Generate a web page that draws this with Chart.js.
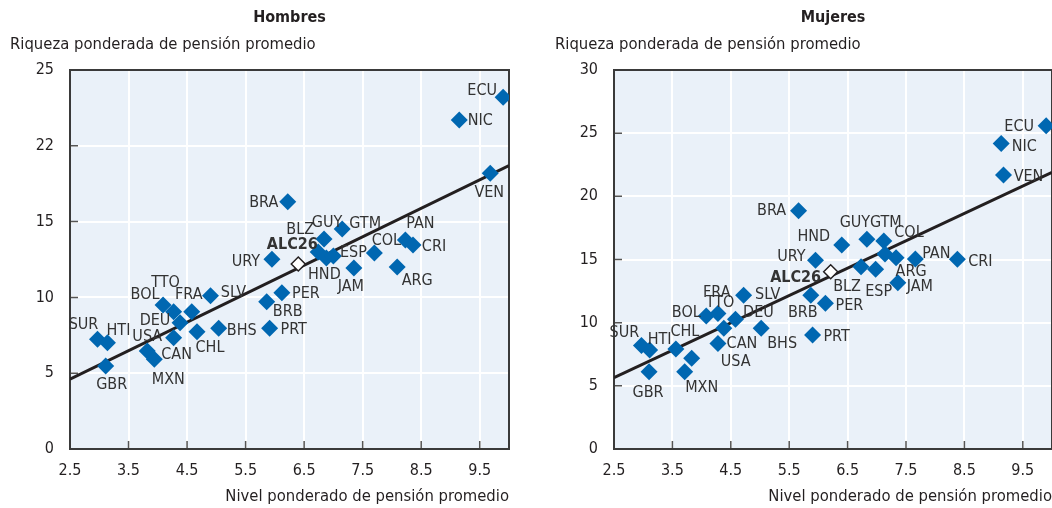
<!DOCTYPE html>
<html>
<head>
<meta charset="utf-8">
<script src="https://cdn.jsdelivr.net/npm/chart.js@4"></script>
<style>
  body { margin: 0; background: #fff; width: 1052px; height: 508px; overflow: hidden; position: relative; }
  canvas { position: absolute; top: 0; }
  #men { left: 0; }
  #women { left: 544px; }
</style>
</head>
<body>
<canvas id="men" width="530" height="508"></canvas>
<canvas id="women" width="509" height="508"></canvas>
<script>
// country codes, same order in every series below
const countries = ["SUR","HTI","GBR","USA","MXN","CAN","DEU","BOL","TTO","FRA","CHL","SLV","BHS","BRB","PER","PRT",
                   "URY","BLZ","HND","GUY","GTM","ESP","JAM","COL","ARG","PAN","CRI","BRA","ECU","NIC","VEN"]

// Hombres: nivel (x) and riqueza (y)
const menLevel  = [2.97,3.14,3.11,3.82,3.94,4.27,4.38,4.09,4.27,4.58,4.67,4.90,5.04,5.86,6.12,5.91,
                   5.95,6.74,6.88,6.84,7.15,7.00,7.35,7.70,8.09,8.23,8.36,6.22,9.90,9.15,9.68]
const menWealth = [7.24,7.01,5.47,6.46,5.92,7.34,8.33,9.50,9.06,9.06,7.74,10.11,7.96,9.72,10.31,7.96,
                   12.51,13.0,12.6,13.85,14.51,12.73,11.94,12.93,12.0,13.79,13.46,16.31,23.2,21.7,18.19]
const menAvg = [6.40, 12.2]          // ALC26
const menTrendX = [2.5, 10]
const menTrendY = [4.6, 18.7]

// Mujeres
const womenLevel  = [2.97,3.11,3.10,3.83,3.71,4.28,4.58,4.08,4.28,4.38,3.56,4.72,5.02,5.87,6.12,5.90,
                     5.95,6.73,6.40,6.83,7.12,6.98,7.36,7.14,7.33,7.66,8.38,5.66,9.90,9.13,9.17]
const womenWealth = [8.19,7.83,6.12,7.18,6.12,8.36,10.28,10.52,10.73,9.55,7.91,12.18,9.55,12.18,11.53,9.02,
                     14.95,14.42,16.14,16.61,16.46,14.22,13.16,15.43,15.13,15.03,15.01,18.85,25.58,24.18,21.68]
const womenAvg = [6.21, 14.03]
const womenTrendX = [2.5, 10]
const womenTrendY = [5.64, 21.9]

// axes
const xTicks = [2.5,3.5,4.5,5.5,6.5,7.5,8.5,9.5]
const xTickLabels = ["2.5","3.5","4.5","5.5","6.5","7.5","8.5","9.5"]
const menYTicks = [0,5,10,15,20,25]
const menYTickLabels = ["0","5","10","15","22","25"]
const womenYTicks = [0,5,10,15,20,25,30]
const womenYTickLabels = ["0","5","10","15","20","25","30"]

// where each label sits relative to its marker (dx, dy in px)
const menLabelAt = {
  SUR:[-14,-14], HTI:[11,-12], GBR:[6,19], USA:[0,-14], MXN:[14,21], CAN:[3,17], DEU:[-25,-2],
  BOL:[-18,-10], TTO:[-8,-29], FRA:[-3,-17], CHL:[13,16], SLV:[23,-3], BHS:[23,3], BRB:[21,10],
  PER:[24,1], PRT:[24,2], URY:[-26,2], BLZ:[-18,-22], HND:[-2,17], GUY:[3,-16], GTM:[23,-5],
  ESP:[20,-3], JAM:[-3,19], COL:[12,-12], ARG:[20,14], PAN:[15,-16], CRI:[21,2], BRA:[-24,1],
  ECU:[-21,-6], NIC:[21,1], VEN:[-1,20], ALC26:[-6,-19]
}
const womenLabelAt = {
  SUR:[-17,-13], HTI:[10,-10], GBR:[-1,21], USA:[44,4], MXN:[17,16], CAN:[24,0], DEU:[23,-6],
  BOL:[-20,-3], TTO:[2,-11], FRA:[-7,-36], CHL:[9,-17], SLV:[24,0], BHS:[21,15], BRB:[-8,18],
  PER:[24,3], PRT:[24,2], URY:[-24,-3], BLZ:[-14,20], HND:[-28,-8], GUY:[-12,-16], GTM:[2,-18],
  ESP:[3,22], JAM:[22,4], COL:[24,-21], ARG:[15,14], PAN:[21,-5], CRI:[23,2], BRA:[-27,0],
  ECU:[-27,1], NIC:[23,3], VEN:[25,2], ALC26:[-35,6]
}

const FONT = "'Liberation Sans Narrow', 'DejaVu Sans Condensed', 'Arial Narrow', sans-serif"
const BLUE = '#0067b1'

function framePlugin(o) {
  return {
    id: 'frame',
    beforeDraw(chart) {
      const a = chart.chartArea, ctx = chart.ctx
      ctx.save()
      ctx.fillStyle = '#eaf1f9'
      ctx.fillRect(a.left, a.top, a.right - a.left, a.bottom - a.top)
      ctx.restore()
    },
    beforeDatasetsDraw(chart) {
      const a = chart.chartArea, ctx = chart.ctx
      const xs = chart.scales.x, ys = chart.scales.y
      ctx.save()
      ctx.strokeStyle = '#555'
      ctx.lineWidth = 1.5
      ctx.beginPath()
      xTicks.forEach(v => { const p = xs.getPixelForValue(v); ctx.moveTo(p, a.bottom); ctx.lineTo(p, a.bottom - 8) })
      o.yTicks.forEach(v => { const p = ys.getPixelForValue(v); ctx.moveTo(a.left, p); ctx.lineTo(a.left + 8, p) })
      ctx.stroke()
      ctx.strokeStyle = '#3a3a3a'
      ctx.lineWidth = 2
      ctx.strokeRect(a.left, a.top, a.right - a.left, a.bottom - a.top)
      ctx.restore()
    },
    afterDraw(chart) {
      const a = chart.chartArea, ctx = chart.ctx
      ctx.save()
      ctx.fillStyle = '#231f20'
      ctx.textBaseline = 'middle'
      ctx.font = 'bold 16px ' + FONT
      ctx.textAlign = 'center'
      ctx.fillText(o.title, (a.left + a.right) / 2, 18)
      ctx.font = '16.5px ' + FONT
      ctx.textAlign = 'left'
      ctx.fillText('Riqueza ponderada de pensión promedio', o.yTitleX, 45)
      ctx.textAlign = 'right'
      ctx.fillText('Nivel ponderado de pensión promedio', a.right, 497)

      // point labels
      ctx.textAlign = 'center'
      ctx.fillStyle = '#333'
      chart.data.datasets.forEach((ds, di) => {
        if (ds.label === 'trend') return
        const meta = chart.getDatasetMeta(di)
        meta.data.forEach((el, i) => {
          const code = ds.data[i].code
          const off = o.labelAt[code] || [0, -16]
          ctx.font = (code === 'ALC26' ? 'bold ' : '') + '16px ' + FONT
          ctx.fillText(code, el.x + off[0], el.y + off[1])
        })
      })
      ctx.restore()
    }
  }
}

function buildChart(id, o) {
  const pts = countries.map((c, i) => ({ x: o.level[i], y: o.wealth[i], code: c }))
  return new Chart(document.getElementById(id), {
    type: 'scatter',
    data: {
      datasets: [
        { label: 'trend', type: 'line', data: o.trendX.map((x, i) => ({ x: x, y: o.trendY[i] })),
          borderColor: '#231f20', borderWidth: 3, pointRadius: 0, order: 2 },
        { label: 'countries', data: pts, pointStyle: 'rectRot', pointRadius: 8.5,
          backgroundColor: BLUE, borderColor: BLUE, borderWidth: 0, order: 1 },
        { label: 'ALC26', data: [{ x: o.avg[0], y: o.avg[1], code: 'ALC26' }], pointStyle: 'rectRot', pointRadius: 7,
          backgroundColor: '#fff', borderColor: '#231f20', borderWidth: 1.5, order: 0 }
      ]
    },
    options: {
      responsive: false,
      animation: false,
      events: [],
      layout: { autoPadding: false, padding: { top: 70, left: 0, right: o.padRight, bottom: 0 } },
      plugins: { legend: { display: false }, tooltip: { enabled: false } },
      scales: {
        x: {
          type: 'linear', min: 2.5, max: 10,
          afterBuildTicks: s => { s.ticks = xTicks.map(v => ({ value: v })) },
          afterFit: s => { s.height = 59; s.paddingLeft = 0; s.paddingRight = 0 },
          grid: { color: '#fff', lineWidth: 2, drawTicks: false },
          border: { display: false },
          ticks: { font: { family: FONT, size: 16 }, color: '#231f20', padding: 12,
                   callback: (v, i) => xTickLabels[i] }
        },
        y: {
          type: 'linear', min: 0, max: o.yMax,
          afterBuildTicks: s => { s.ticks = o.yTicks.map(v => ({ value: v })) },
          afterFit: s => { s.width = 70; s.paddingTop = 0; s.paddingBottom = 0 },
          grid: { color: '#fff', lineWidth: 2, drawTicks: false },
          border: { display: false },
          ticks: { font: { family: FONT, size: 16 }, color: '#231f20', padding: 16,
                   callback: (v, i) => o.yTickLabels[i] }
        }
      }
    },
    plugins: [framePlugin(o)]
  })
}

const menChart = buildChart('men', {
  title: 'Hombres', level: menLevel, wealth: menWealth, avg: menAvg,
  trendX: menTrendX, trendY: menTrendY, yMax: 25, yTicks: menYTicks, yTickLabels: menYTickLabels,
  labelAt: menLabelAt, padRight: 21, yTitleX: 10
})
const womenChart = buildChart('women', {
  title: 'Mujeres', level: womenLevel, wealth: womenWealth, avg: womenAvg,
  trendX: womenTrendX, trendY: womenTrendY, yMax: 30, yTicks: womenYTicks, yTickLabels: womenYTickLabels,
  labelAt: womenLabelAt, padRight: 1, yTitleX: 11
})
</script>
</body>
</html>
